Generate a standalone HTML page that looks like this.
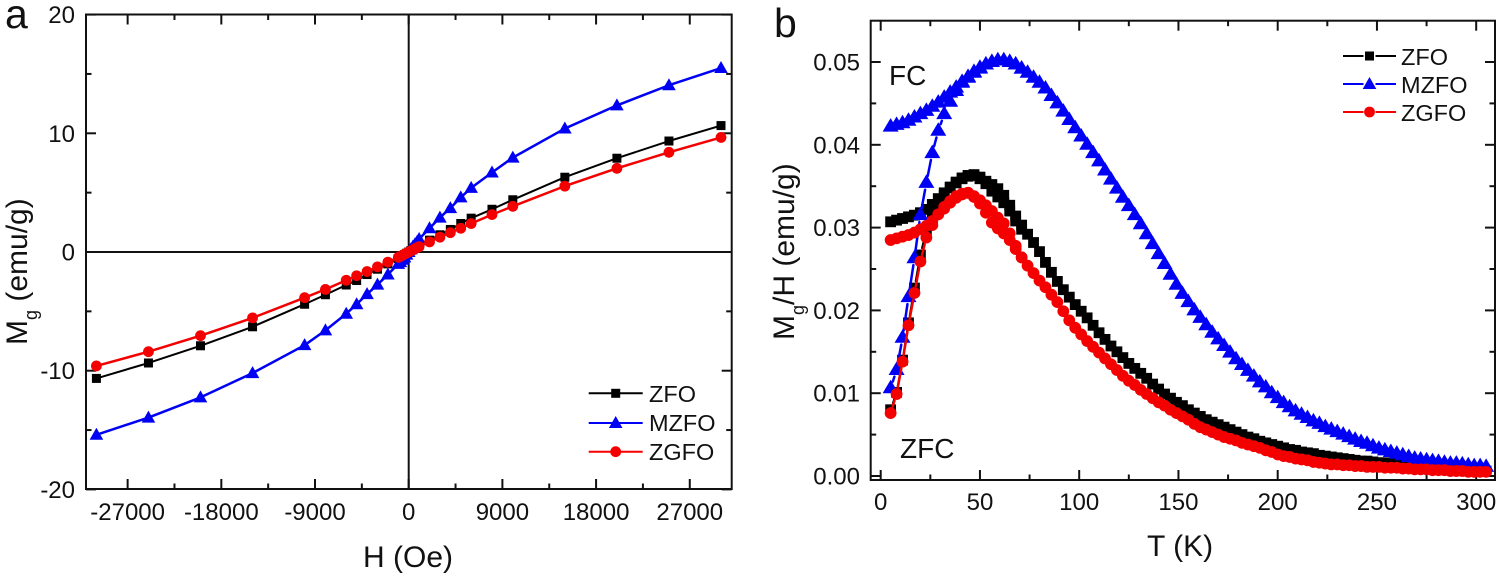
<!DOCTYPE html>
<html lang="en">
<head>
<meta charset="utf-8">
<title>Magnetization charts</title>
<style>
html,body{margin:0;padding:0;background:#fff;width:1499px;height:576px;overflow:hidden}
svg{display:block}
text{font-family:"Liberation Sans",Arial,sans-serif;fill:#111}
</style>
</head>
<body>
<svg id="figure" width="1499" height="576" viewBox="0 0 1499 576" xmlns="http://www.w3.org/2000/svg">
  <rect width="1499" height="576" fill="#fff"/>
  <text x="5" y="28" font-size="41">a</text>
  <text x="774" y="37" font-size="41">b</text>

  <g id="panelA"></g>
  <g id="panelB"></g>

  <text x="363" y="567" font-size="30">H (Oe)</text>
  <text transform="translate(27,345) rotate(-90)" font-size="30">M<tspan font-size="18" dy="10">g</tspan><tspan dy="-10"> (emu/g)</tspan></text>
  <text x="1147" y="556" font-size="30">T (K)</text>
  <text transform="translate(794,340) rotate(-90)" font-size="30">M<tspan font-size="18" dy="10">g</tspan><tspan dy="-10">/H (emu/g)</tspan></text>
  <text x="889" y="85" font-size="28">FC</text>
  <text x="900" y="458" font-size="28">ZFC</text>

  <g id="legendA">
    <text x="649" y="402" font-size="23.5">ZFO</text>
    <text x="649" y="431" font-size="23.5">MZFO</text>
    <text x="649" y="460" font-size="23.5">ZGFO</text>
  </g>
  <g id="legendB">
    <text x="1401" y="65" font-size="23.5">ZFO</text>
    <text x="1401" y="93" font-size="23.5">MZFO</text>
    <text x="1401" y="121" font-size="23.5">ZGFO</text>
  </g>
</svg>
<script>
/* ---------- Panel a data ---------- */
const fieldOe = [-30000,-25000,-20000,-15000,-10000,-8000,-6000,-5000,-4000,-3000,-2000,-1000,-800,-600,-400,-200,0,200,400,600,800,1000,2000,3000,4000,5000,6000,8000,10000,15000,20000,25000,30000];
const zfoMg = [-10.65,-9.35,-7.9,-6.3,-4.4,-3.6,-2.78,-2.4,-1.9,-1.45,-1.0,-0.55,-0.45,-0.33,-0.22,-0.11,0,0.11,0.22,0.33,0.45,0.55,1.0,1.45,1.9,2.4,2.85,3.6,4.4,6.3,7.9,9.35,10.65];
const mzfoMg = [-15.4,-13.95,-12.25,-10.2,-7.85,-6.6,-5.2,-4.4,-3.55,-2.75,-1.9,-1.0,-0.85,-0.65,-0.45,-0.22,0,0.22,0.45,0.65,0.85,1.1,2.0,2.9,3.7,4.6,5.4,6.7,7.95,10.4,12.35,14.05,15.5];
const zgfoMg = [-9.6,-8.4,-7.05,-5.55,-3.85,-3.15,-2.38,-2.0,-1.65,-1.25,-0.85,-0.45,-0.37,-0.28,-0.18,-0.09,0,0.09,0.18,0.28,0.37,0.45,0.85,1.25,1.63,2.0,2.4,3.15,3.85,5.55,7.05,8.4,9.65];
const xTicksA = [-27000,-18000,-9000,0,9000,18000,27000];
const xMinorA = [-22500,-13500,-4500,4500,13500,22500];
const xTickLabelsA = ["-27000","-18000","-9000","0","9000","18000","27000"];
const yTicksA = [-20,-10,0,10,20];
const yMinorA = [-15,-5,5,15];
const yTickLabelsA = ["-20","-10","0","10","20"];

/* ---------- Panel b data ---------- */
const tempFC = [5,8,11,14,17,20,23,26,29,32,35,38,41,44,47,50,53,56,59,62,65,68,71,74,77,80,83,86,89,92,95,98,101,104,107,110,113,116,119,122,125,128,131,134,137,140,143,146,149,152,155,158,161,164,167,170,173,176,179,182,185,188,191,194,197,200,203,206,209,212,215,218,221,224,227,230,233,236,239,242,245,248,251,254,257,260,263,266,269,272,275,278,281,284,287,290,293,296,299,302,305];
const zfoFC = [.0307,.0309,.0311,.0313,.0315,.0318,.0322,.0328,.0335,.0342,.0349,.0355,.0360,.0363,.0364,.0361,.0356,.0352,.0347,.0339,.0327,.0314,.0303,.0292,.0282,.0271,.0258,.0246,.0235,.0225,.0216,.0207,.0199,.0191,.0182,.0173,.0165,.0157,.0150,.0143,.0136,.0130,.0124,.0118,.0111,.0105,.0099,.0094,.0089,.0085,.0080,.0076,.0072,.0068,.0065,.0062,.0059,.0056,.0053,.0050,.0047,.0045,.0042,.0040,.0038,.0036,.0034,.0032,.0031,.0029,.0028,.0027,.0025,.0024,.0023,.0022,.0021,.0020,.0019,.0018,.0018,.0017,.0016,.0016,.0015,.0014,.0014,.0013,.0012,.0012,.0011,.0011,.0010,.0010,.0009,.0009,.0008,.0008,.0007,.0007,.0006];
const mzfoFC = [.0422,.0424,.0426,.0429,.0433,.0437,.0441,.0446,.0451,.0457,.0463,.0469,.0475,.0481,.0487,.0492,.0497,.0500,.0502,.0502,.0500,.0497,.0492,.0487,.0481,.0475,.0468,.0459,.0450,.0440,.0430,.0420,.0410,.0400,.0390,.0380,.0369,.0358,.0347,.0336,.0326,.0315,.0304,.0292,.0280,.0268,.0256,.0243,.0231,.0220,.0210,.0200,.0191,.0182,.0173,.0165,.0157,.0149,.0141,.0134,.0127,.0120,.0113,.0107,.0100,.0094,.0088,.0083,.0078,.0074,.0070,.0066,.0063,.0059,.0056,.0053,.0050,.0047,.0044,.0041,.0039,.0036,.0033,.0031,.0029,.0027,.0025,.0023,.0021,.0020,.0019,.0018,.0017,.0016,.0015,.0015,.0014,.0013,.0012,.0012,.0011];
const zgfoFC = [.0285,.0287,.0289,.0291,.0294,.0298,.0302,.0308,.0316,.0323,.0330,.0336,.0340,.0342,.0338,.0333,.0327,.0320,.0312,.0305,.0293,.0278,.0264,.0254,.0245,.0236,.0228,.0219,.0210,.0199,.0188,.0179,.0171,.0163,.0156,.0149,.0142,.0135,.0128,.0121,.0115,.0110,.0104,.0099,.0094,.0089,.0085,.0080,.0076,.0072,.0068,.0063,.0059,.0056,.0053,.0050,.0047,.0045,.0043,.0040,.0038,.0036,.0034,.0031,.0029,.0026,.0024,.0023,.0021,.0020,.0019,.0017,.0016,.0015,.0014,.0014,.0013,.0013,.0012,.0012,.0011,.0011,.0011,.0010,.0010,.0010,.0009,.0009,.0008,.0008,.0008,.0007,.0007,.0007,.0006,.0006,.0006,.0005,.0005,.0005,.0005];
const tempZFC = [5,8,11,14,17,20,23,26,29,32,35,38,41,44,47,50,53,56,59,62,65,68,71];
const zfoZFC = [.0080,.0101,.0140,.0185,.0227,.0267,.0297,.0316,.0328,.0339,.0348,.0354,.0359,.0362,.0363,.0359,.0353,.0344,.0337,.0330,.0320,.0308,.0298];
const mzfoZFC = [.0106,.0128,.0167,.0216,.0263,.0315,.0354,.0390,.0417,.0437,.0452,.0465,.0476,.0482,.0488,.0493,.0497,.0500,.0502,.0502,.0500,.0497,.0492];
const zgfoZFC = [.0076,.0099,.0138,.0182,.0221,.0259,.0288,.0303,.0316,.0325,.0332,.0338,.0341,.0342,.0337,.0329,.0318,.0306,.0299,.0293,.0285,.0274,.0264];
const xTicksB = [0,50,100,150,200,250,300];
const xMinorB = [25,75,125,175,225,275];
const xTickLabelsB = ["0","50","100","150","200","250","300"];
const yTicksB = [0,.01,.02,.03,.04,.05];
const yMinorB = [.005,.015,.025,.035,.045];
const yTickLabelsB = ["0.00","0.01","0.02","0.03","0.04","0.05"];

/* ---------- Axis functions ---------- */
const xA = v => 408.7 + v * 0.01041;
const yA = v => 252 - v * 11.87;
const xB = v => 880.7 + v * 1.985;
const yB = v => 476 - v * 8280;
const BLACK = "#000", BLUE = "#0000f5", RED = "#f50000";
const NS = "http://www.w3.org/2000/svg";

function mk(parent, tag, attrs) {
  const el = document.createElementNS(NS, tag);
  for (const k in attrs) el.setAttribute(k, attrs[k]);
  parent.appendChild(el);
  return el;
}
function line(parent, x1, y1, x2, y2, stroke, w, name) {
  const el = mk(parent, "line", {x1, y1, x2, y2, stroke, "stroke-width": w});
  
  
  return el;
}
function marker(parent, kind, x, y, color, name, big) {
  let el;
  if (kind === "square") {
    const h = big ? 5.4 : 4.5;
    el = mk(parent, "rect", {x: x - h, y: y - h, width: 2 * h, height: 2 * h, fill: color});
  } else if (kind === "triangle") {
    const w = big ? 8 : 6.8;
    const up = big ? 8.5 : 7;
    el = mk(parent, "polygon", {points: `${x},${y - up} ${x + w},${y + 5} ${x - w},${y + 5}`, fill: color});
  } else {
    el = mk(parent, "circle", {cx: x, cy: y, r: big ? 5.9 : 5.4, fill: color});
  }
  
  
  return el;
}
function series(parent, xs, ys, fx, fy, color, width, kind, name, gap) {
  const g = mk(parent, "g", {});
  
  
  let d = "";
  for (let i = 0; i < xs.length - 1; i++) {
    const ax = fx(xs[i]), ay = fy(ys[i]), bx = fx(xs[i + 1]), by = fy(ys[i + 1]);
    const len = Math.hypot(bx - ax, by - ay);
    if (len <= 2 * gap) continue;
    const ux = (bx - ax) / len, uy = (by - ay) / len;
    d += `M${(ax + ux * gap).toFixed(2)} ${(ay + uy * gap).toFixed(2)}L${(bx - ux * gap).toFixed(2)} ${(by - uy * gap).toFixed(2)}`;
  }
  const pl = mk(g, "path", {d, fill: "none", stroke: color, "stroke-width": width, "stroke-linecap": "round"});
  
  
  xs.forEach((v, i) => marker(g, kind, fx(v), fy(ys[i]), color, name + '-point', gap > 0));
}
function tickLabel(parent, x, y, str, anchor, name) {
  const t = mk(parent, "text", {x, y, "font-size": 24, "text-anchor": anchor});
  t.textContent = str;
  
  
}
function frame(parent, box, xMaj, xMin, yMaj, yMin, fx, fy, xLab, yLab, xLabY, yLabX, tag) {
  const {l, t, r, b} = box;
  const rect = mk(parent, "rect", {x: l, y: t, width: r - l, height: b - t, fill: "none", stroke: "#111", "stroke-width": 2});
  
  
  xMaj.forEach((v, i) => {
    line(parent, fx(v), b, fx(v), b - 10, "#111", 2, 'x-tick-' + tag);
    line(parent, fx(v), t, fx(v), t + 10, "#111", 2, 'x-tick-top-' + tag);
    tickLabel(parent, fx(v), xLabY, xLab[i], "middle", 'x-tick-label-' + tag);
  });
  xMin.forEach(v => {
    line(parent, fx(v), b, fx(v), b - 5.5, "#111", 2, 'x-minor-tick-' + tag);
    line(parent, fx(v), t, fx(v), t + 5.5, "#111", 2, 'x-minor-tick-top-' + tag);
  });
  yMaj.forEach((v, i) => {
    line(parent, l, fy(v), l + 10, fy(v), "#111", 2, 'y-tick-' + tag);
    line(parent, r, fy(v), r - 10, fy(v), "#111", 2, 'y-tick-right-' + tag);
    tickLabel(parent, yLabX, fy(v) + 8.5, yLab[i], "end", 'y-tick-label-' + tag);
  });
  yMin.forEach(v => {
    line(parent, l, fy(v), l + 5.5, fy(v), "#111", 2, 'y-minor-tick-' + tag);
    line(parent, r, fy(v), r - 5.5, fy(v), "#111", 2, 'y-minor-tick-right-' + tag);
  });
}
function legendRow(parent, x1, x2, y, color, w, kind, name, gap) {
  const mid = (x1 + x2) / 2;
  if (gap > 0) {
    line(parent, x1, y, mid - gap, y, color, w, name + '-line-left');
    line(parent, mid + gap, y, x2, y, color, w, name + '-line-right');
  } else {
    line(parent, x1, y, x2, y, color, w, name + '-line');
  }
  marker(parent, kind, mid, y, color, name + '-marker', false);
}

/* ---------- Panel a ---------- */
const pA = document.getElementById("panelA");
const boxA = {l: 86, t: 14.5, r: 731.7, b: 489};
frame(pA, boxA, xTicksA, xMinorA, yTicksA, yMinorA, xA, yA, xTickLabelsA, yTickLabelsA, 520, 75, "a");
line(pA, xA(0), boxA.t, xA(0), boxA.b, "#111", 2, 'zero-line-vertical');
line(pA, boxA.l, yA(0), boxA.r, yA(0), "#111", 2, 'zero-line-horizontal');
series(pA, fieldOe, zfoMg, xA, yA, BLACK, 2, "square", 'series-zfo-a', 0);
series(pA, fieldOe, mzfoMg, xA, yA, BLUE, 2.5, "triangle", 'series-mzfo-a', 0);
series(pA, fieldOe, zgfoMg, xA, yA, RED, 2.5, "circle", 'series-zgfo-a', 0);
const lgA = document.getElementById("legendA");
legendRow(lgA, 588.7, 642.7, 393.3, BLACK, 2, "square", 'legend-zfo-a', 0);
legendRow(lgA, 588.7, 642.7, 423, BLUE, 2, "triangle", 'legend-mzfo-a', 0);
legendRow(lgA, 588.7, 642.7, 451.7, RED, 2, "circle", 'legend-zgfo-a', 0);

/* ---------- Panel b ---------- */
const pB = document.getElementById("panelB");
const boxB = {l: 870.7, t: 20.7, r: 1495, b: 480};
frame(pB, boxB, xTicksB, xMinorB, yTicksB, yMinorB, xB, yB, xTickLabelsB, yTickLabelsB, 510, 860, "b");
series(pB, tempZFC, zfoZFC, xB, yB, BLACK, 2, "square", 'series-zfo-zfc', 7);
series(pB, tempFC, zfoFC, xB, yB, BLACK, 2, "square", 'series-zfo-fc', 7);
series(pB, tempZFC, mzfoZFC, xB, yB, BLUE, 2.5, "triangle", 'series-mzfo-zfc', 7);
series(pB, tempFC, mzfoFC, xB, yB, BLUE, 2.5, "triangle", 'series-mzfo-fc', 7);
series(pB, tempFC, zgfoFC, xB, yB, RED, 2.5, "circle", 'series-zgfo-fc', 7);
series(pB, tempZFC, zgfoZFC, xB, yB, RED, 2.5, "circle", 'series-zgfo-zfc', 7);
const lgB = document.getElementById("legendB");
legendRow(lgB, 1343, 1396, 56, BLACK, 2, "square", 'legend-zfo-b', 6);
legendRow(lgB, 1343, 1396, 84, BLUE, 2, "triangle", 'legend-mzfo-b', 6);
legendRow(lgB, 1343, 1396, 112, RED, 2, "circle", 'legend-zgfo-b', 6);
</script>
</body>
</html>
